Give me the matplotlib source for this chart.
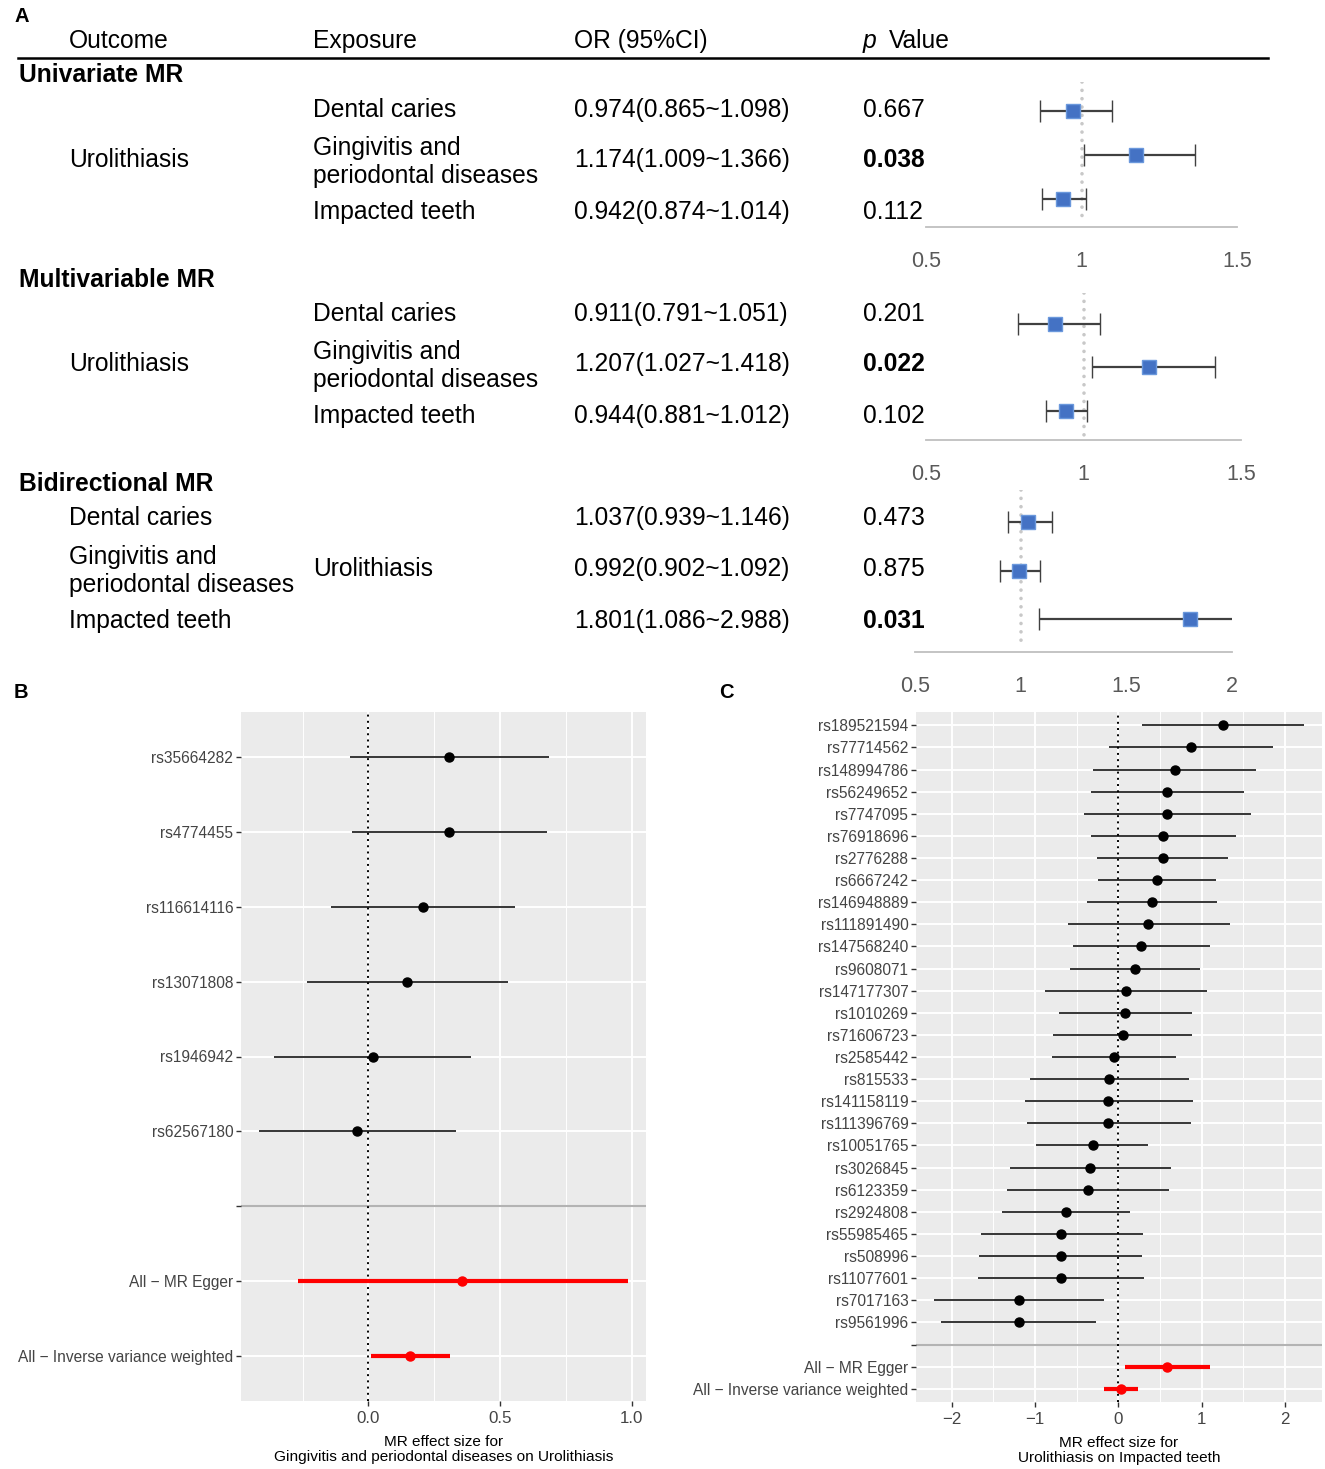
import numpy as np
import matplotlib.pyplot as plt

plt.rcParams['font.family'] = ['Liberation Sans', 'DejaVu Sans']

W, H = 1325, 1469

# ---------------- Panel A data ----------------
exposures = ['Dental caries', 'Gingivitis and\nperiodontal diseases', 'Impacted teeth']

uni_or = [0.974, 1.174, 0.942]
uni_lo = [0.865, 1.009, 0.874]
uni_hi = [1.098, 1.366, 1.014]
uni_p = ['0.667', '0.038', '0.112']
uni_sig = [False, True, False]

multi_or = [0.911, 1.207, 0.944]
multi_lo = [0.791, 1.027, 0.881]
multi_hi = [1.051, 1.418, 1.012]
multi_p = ['0.201', '0.022', '0.102']
multi_sig = [False, True, False]

bi_or = [1.037, 0.992, 1.801]
bi_lo = [0.939, 0.902, 1.086]
bi_hi = [1.146, 1.092, 2.988]
bi_p = ['0.473', '0.875', '0.031']
bi_sig = [False, False, True]

# ---------------- Panel B data ----------------
b_snps = ['rs35664282', 'rs4774455', 'rs116614116', 'rs13071808', 'rs1946942', 'rs62567180']
b_est = [0.307, 0.307, 0.206, 0.146, 0.016, -0.042]
b_lo = [-0.069, -0.062, -0.142, -0.235, -0.358, -0.414]
b_hi = [0.685, 0.678, 0.557, 0.530, 0.390, 0.331]
b_sum_labels = ['All − MR Egger', 'All − Inverse variance weighted']
b_sum_est = [0.357, 0.158]
b_sum_lo = [-0.269, 0.008]
b_sum_hi = [0.984, 0.309]

# ---------------- Panel C data ----------------
c_snps = ['rs189521594', 'rs77714562', 'rs148994786', 'rs56249652', 'rs7747095',
          'rs76918696', 'rs2776288', 'rs6667242', 'rs146948889', 'rs111891490',
          'rs147568240', 'rs9608071', 'rs147177307', 'rs1010269', 'rs71606723',
          'rs2585442', 'rs815533', 'rs141158119', 'rs111396769', 'rs10051765',
          'rs3026845', 'rs6123359', 'rs2924808', 'rs55985465', 'rs508996',
          'rs11077601', 'rs7017163', 'rs9561996']
c_est = [1.252, 0.871, 0.678, 0.584, 0.584, 0.540, 0.530, 0.465, 0.401, 0.361,
         0.277, 0.198, 0.089, 0.084, 0.050, -0.054, -0.109, -0.119, -0.119, -0.307,
         -0.337, -0.366, -0.629, -0.683, -0.688, -0.693, -1.188, -1.198]
c_lo = [0.282, -0.109, -0.302, -0.332, -0.416, -0.332, -0.252, -0.243, -0.381, -0.604,
        -0.540, -0.579, -0.886, -0.713, -0.782, -0.792, -1.064, -1.124, -1.094, -0.985,
        -1.297, -1.337, -1.401, -1.653, -1.668, -1.683, -2.208, -2.129]
c_hi = [2.223, 1.856, 1.649, 1.505, 1.589, 1.411, 1.317, 1.178, 1.188, 1.337,
        1.094, 0.980, 1.059, 0.881, 0.881, 0.688, 0.851, 0.891, 0.866, 0.361,
        0.634, 0.604, 0.144, 0.292, 0.282, 0.302, -0.173, -0.267]
c_sum_labels = ['All − MR Egger', 'All − Inverse variance weighted']
c_sum_est = [0.584, 0.030]
c_sum_lo = [0.084, -0.173]
c_sum_hi = [1.094, 0.238]

fig = plt.figure(figsize=(W / 100, H / 100), dpi=100)
fig.patch.set_facecolor('white')

FS = 17.7


def ftext(x, y, s, **kw):
    kw.setdefault('fontsize', FS)
    kw.setdefault('va', 'center')
    kw.setdefault('ha', 'left')
    fig.text(x / W, 1 - y / H, s, **kw)


def pax(l, t, r, b):
    return fig.add_axes([l / W, 1 - b / H, (r - l) / W, (b - t) / H])


# ---------------- Panel A table ----------------
ftext(14, 16, 'A', fontsize=14.5, fontweight='bold')
ftext(69, 41, 'Outcome')
ftext(313, 41, 'Exposure')
ftext(574, 41, 'OR (95%CI)')
ftext(863, 41, 'p', style='italic')
ftext(889, 41, 'Value')
fig.add_artist(plt.Line2D([18 / W, 1268 / W], [1 - 58 / H, 1 - 58 / H], color='black', lw=1.8))


def or_text(o, l, h):
    return [f'{a:.3f}({b:.3f}~{c:.3f})' for a, b, c in zip(o, l, h)]


# Univariate
ftext(19, 75, 'Univariate MR', fontweight='bold')
ftext(69, 160, 'Urolithiasis')
for y, e, t, p, s in zip([110, 162, 212], exposures, or_text(uni_or, uni_lo, uni_hi), uni_p, uni_sig):
    ftext(313, y, e, linespacing=1.25)
    ftext(574, y - (2 if '\n' in e else 0), t)
    ftext(863, y - (2 if '\n' in e else 0), p, fontweight='bold' if s else 'normal')

# Multivariable
ftext(19, 280, 'Multivariable MR', fontweight='bold')
ftext(69, 364, 'Urolithiasis')
for y, e, t, p, s in zip([314, 366, 416], exposures, or_text(multi_or, multi_lo, multi_hi), multi_p, multi_sig):
    ftext(313, y, e, linespacing=1.25)
    ftext(574, y - (2 if '\n' in e else 0), t)
    ftext(863, y - (2 if '\n' in e else 0), p, fontweight='bold' if s else 'normal')

# Bidirectional
ftext(19, 484, 'Bidirectional MR', fontweight='bold')
ftext(313, 569, 'Urolithiasis')
for y, e, t, p, s in zip([518, 571, 621], exposures, or_text(bi_or, bi_lo, bi_hi), bi_p, bi_sig):
    ftext(69, y, e, linespacing=1.25)
    ftext(574, y - (2 if '\n' in e else 0), t)
    ftext(863, y - (2 if '\n' in e else 0), p, fontweight='bold' if s else 'normal')


def forest(ax, est, lo, hi, xmax, ybot, ytop):
    est, lo, hi = np.array(est), np.array(lo), np.array(hi)
    y = np.arange(len(est))
    ax.plot([1, 1], [ytop, 2.55], color='#C8C8C8', lw=2.6,
            linestyle=(0, (0.01, 2.3)), dash_capstyle='round', zorder=0)
    ax.errorbar(est, y, xerr=[est - lo, hi - est], fmt='s', ecolor='#404040',
                elinewidth=1.6, capsize=8, capthick=1.6, mfc='#4472C4',
                mec='#6A98DC', mew=1, ms=10.5, zorder=3)
    ax.set_xlim(0.5, xmax)
    ax.set_ylim(ybot, ytop)
    for sp in ['top', 'left', 'right']:
        ax.spines[sp].set_visible(False)
    ax.spines['bottom'].set_color('#BFBFBF')
    ax.spines['bottom'].set_linewidth(1.3)
    ticks = np.arange(0.5, xmax + 0.01, 0.5)
    ax.set_xticks(ticks)
    ax.set_xticklabels([f'{t:g}' for t in ticks])
    ax.tick_params(axis='x', length=0, pad=17, labelsize=15.5, labelcolor='#595959')
    ax.set_yticks([])
    ax.patch.set_alpha(0)


forest(pax(926, 82, 1237, 227), uni_or, uni_lo, uni_hi, 1.5, 2.636, -0.66)
forest(pax(926, 293, 1241, 440), multi_or, multi_lo, multi_hi, 1.5, 2.67, -0.71)
forest(pax(915, 490, 1232, 652), bi_or, bi_lo, bi_hi, 2.0, 2.68, -0.66)


# ---------------- Panels B and C (ggplot-like) ----------------
def mr_panel(ax, labels, est, lo, hi, s_labels, s_est, s_lo, s_hi, xlabel, major, minor):
    n = len(labels)
    ypos = np.arange(n)
    blank = n
    ys = np.array([n + 1, n + 2])
    ax.set_facecolor('#EBEBEB')
    for m in minor:
        ax.axvline(m, color='white', lw=0.7, zorder=0)
    for m in major:
        ax.axvline(m, color='white', lw=1.4, zorder=0)
    for yy in list(ypos) + [blank] + list(ys):
        ax.axhline(yy, color='white', lw=1.4, zorder=0)
    ax.axhline(blank, color='#B3B3B3', lw=1.5, zorder=1)
    ax.axvline(0, color='black', lw=1.4, linestyle=(0, (1, 2.2)), zorder=2)
    ax.hlines(ypos, lo, hi, color='black', lw=1.1, zorder=3)
    ax.plot(est, ypos, 'o', color='black', ms=6.5, zorder=4)
    ax.hlines(ys, s_lo, s_hi, color='red', lw=3.0, zorder=3)
    ax.plot(s_est, ys, 'o', color='red', ms=6.5, zorder=4)
    ax.set_yticks(list(ypos) + [blank] + list(ys))
    ax.set_yticklabels(list(labels) + [''] + list(s_labels))
    ax.set_ylim(n + 2 + 0.6, -0.6)
    vmin = min(min(lo), min(s_lo))
    vmax = max(max(hi), max(s_hi))
    pad = 0.05 * (vmax - vmin)
    ax.set_xlim(vmin - pad, vmax + pad)
    ax.set_xticks(major)
    for sp in ax.spines.values():
        sp.set_visible(False)
    ax.tick_params(axis='both', length=3.5, width=1, color='#333333',
                   labelcolor='#444444', pad=2)
    ax.tick_params(axis='y', labelsize=11.2)
    ax.tick_params(axis='x', labelsize=12.2, pad=4)
    ax.set_xlabel(xlabel, fontsize=11.1, color='black', labelpad=6, linespacing=1.15)


ftext(14, 692, 'B', fontsize=14.5, fontweight='bold')
ftext(719, 692, 'C', fontsize=14.5, fontweight='bold')

axb = pax(241, 712, 646, 1401)
mr_panel(axb, b_snps, b_est, b_lo, b_hi, b_sum_labels, b_sum_est, b_sum_lo, b_sum_hi,
         'MR effect size for\nGingivitis and periodontal diseases on Urolithiasis',
         [0.0, 0.5, 1.0], [-0.25, 0.25, 0.75])
axb.set_xticklabels(['0.0', '0.5', '1.0'])

axc = pax(916, 712, 1322, 1402)
mr_panel(axc, c_snps, c_est, c_lo, c_hi, c_sum_labels, c_sum_est, c_sum_lo, c_sum_hi,
         'MR effect size for\nUrolithiasis on Impacted teeth',
         [-2, -1, 0, 1, 2], [-1.5, -0.5, 0.5, 1.5])

fig.savefig('out.png', dpi=100, facecolor='white')
